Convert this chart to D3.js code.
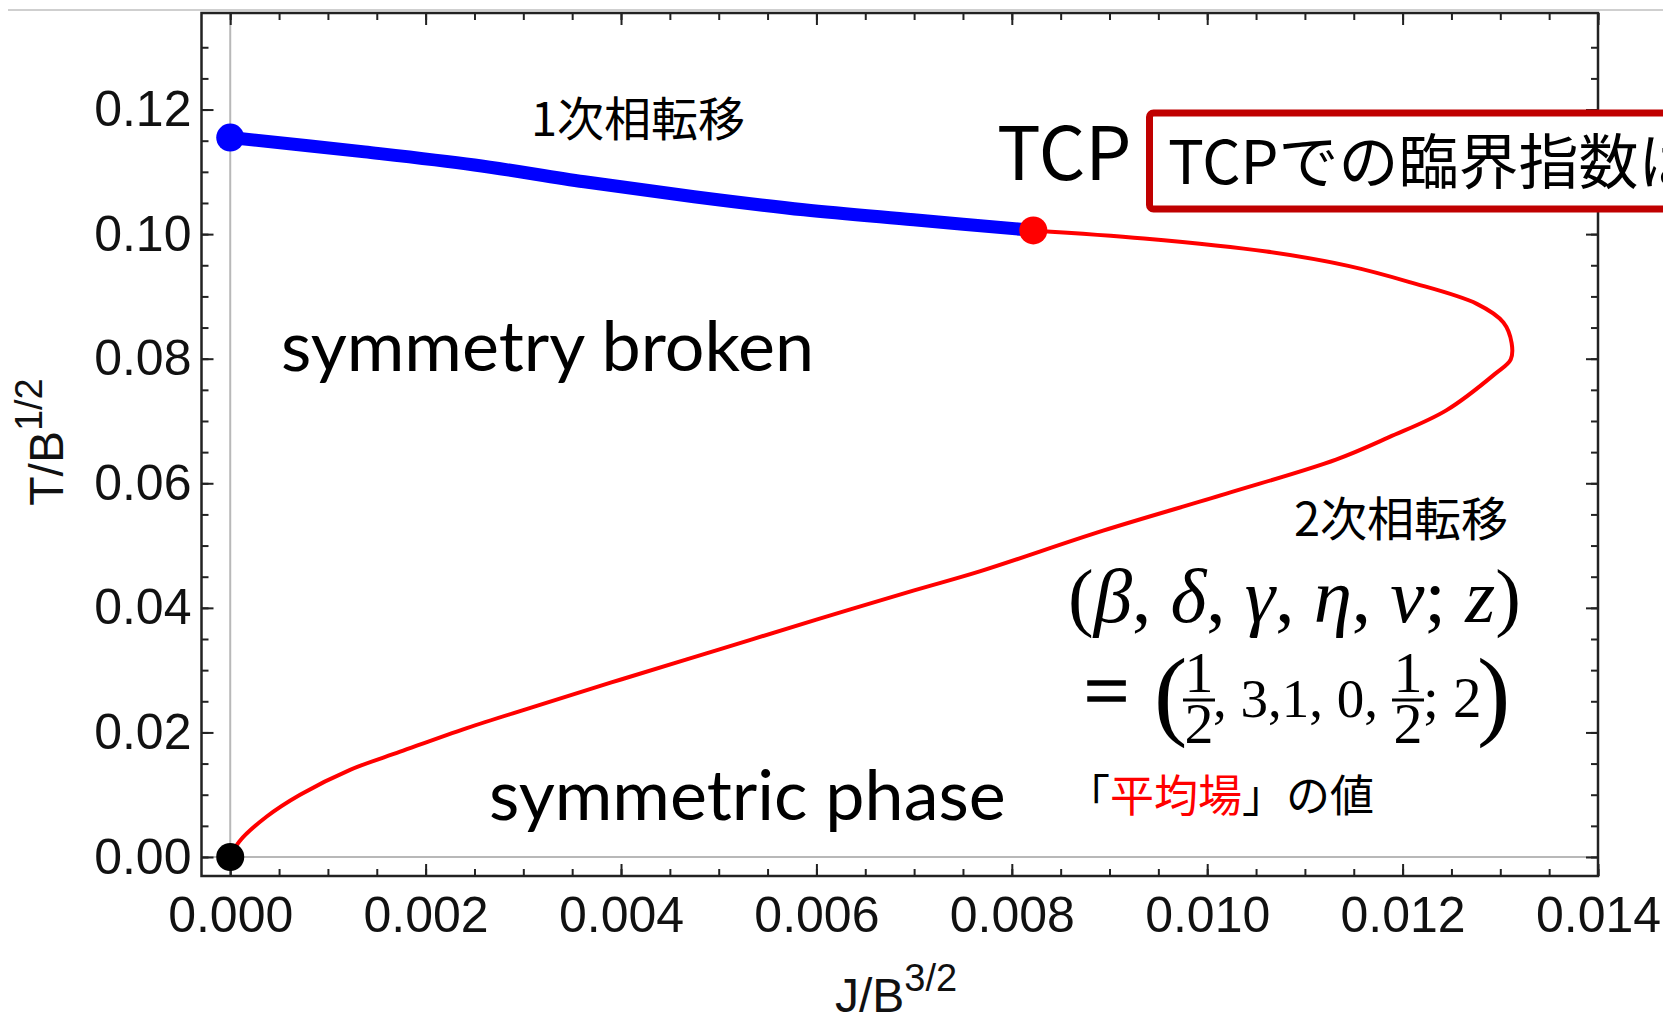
<!DOCTYPE html>
<html>
<head>
<meta charset="utf-8">
<script src="https://cdn.jsdelivr.net/npm/d3@7"></script>
<style>
  body { margin: 0; background: #fff; }
  svg { display: block; }
</style>
</head>
<body>
<div id="chart"></div>
<script>
// tick values
const xMajor = [0, 0.002, 0.004, 0.006, 0.008, 0.010, 0.012, 0.014]
const yMajor = [0, 0.02, 0.04, 0.06, 0.08, 0.10, 0.12]
const xMinor = d3.range(0, 0.01401, 0.0005)
const yMinor = d3.range(0, 0.1341, 0.005)

// 1st order transition line (blue), J/B^(3/2) vs T/B^(1/2)
const firstJ = [0, 0.001377, 0.0025, 0.003624, 0.004748, 0.005872, 0.006995, 0.00822]
const firstT = [0.1155, 0.1132, 0.1111, 0.1084, 0.1060, 0.1039, 0.1023, 0.1006]

// 2nd order transition line (red), from origin up to TCP
const secondJ = [0, 0.0000936, 0.000374, 0.000715, 0.001227, 0.001739, 0.002422, 0.003105,
  0.004, 0.005, 0.006, 0.007, 0.00768, 0.008934, 0.010189, 0.011318, 0.011862, 0.012447,
  0.012949, 0.013107, 0.013116, 0.013032, 0.012760, 0.012071, 0.011443, 0.010607, 0.009353, 0.00822]
const secondT = [0, 0.0025, 0.0065, 0.0100, 0.0140, 0.0169, 0.0207, 0.0241,
  0.0285, 0.0333, 0.0381, 0.0428, 0.0459, 0.0524, 0.0583, 0.0638, 0.0674, 0.0717,
  0.0776, 0.0799, 0.0825, 0.0858, 0.0888, 0.0923, 0.0949, 0.0972, 0.0993, 0.1006]

// special points
const dotJ = [0, 0.00822, 0]
const dotT = [0.1155, 0.1006, 0]
const dotColor = ['#0000ff', '#ff0000', '#000000']

const width = 1663
const height = 1021
const margin = { top: 13, left: 201.5, right: 65, bottom: 145 }

const svg = d3
  .select('#chart')
  .append('svg')
  .attr('width', width)
  .attr('height', height)
  .style('background', 'white')

const x = d3
  .scaleLinear()
  .domain([-0.000294, 0.014])
  .range([margin.left, width - margin.right])
const y = d3
  .scaleLinear()
  .domain([-0.00305, 0.1355])
  .range([height - margin.bottom, margin.top])

const x0 = margin.left
const x1 = width - margin.right
const y0 = height - margin.bottom
const y1 = margin.top

// thin grey line of the slide at the very top
svg.append('line')
  .attr('x1', 8).attr('x2', width)
  .attr('y1', 10).attr('y2', 10)
  .attr('stroke', '#cfcfcf').attr('stroke-width', 2)

// axes lines through origin (light grey)
svg.append('line')
  .attr('x1', x(0)).attr('x2', x(0))
  .attr('y1', y1).attr('y2', y0)
  .attr('stroke', '#b8b8b8').attr('stroke-width', 2)
svg.append('line')
  .attr('x1', x0).attr('x2', x1)
  .attr('y1', y(0)).attr('y2', y(0))
  .attr('stroke', '#b8b8b8').attr('stroke-width', 2)

// frame ticks, all pointing inward
function tickStyle(g) {
  g.select('.domain').remove()
  g.selectAll('.tick line').attr('stroke', '#222').attr('stroke-width', 2)
  g.selectAll('.tick text')
    .attr('fill', '#111')
    .style('font-family', '"Liberation Sans", Arial, sans-serif')
    .style('font-size', '50px')
}

svg.append('g')
  .attr('transform', `translate(0,${y0})`)
  .call(d3.axisBottom(x).tickValues(xMinor).tickSize(-7).tickFormat(''))
  .call(tickStyle)
svg.append('g')
  .attr('transform', `translate(0,${y0})`)
  .call(d3.axisBottom(x).tickValues(xMajor).tickSize(-12).tickPadding(20).tickFormat(d3.format('.3f')))
  .call(tickStyle)
svg.append('g')
  .attr('transform', `translate(0,${y1})`)
  .call(d3.axisTop(x).tickValues(xMinor).tickSize(-7).tickFormat(''))
  .call(tickStyle)
svg.append('g')
  .attr('transform', `translate(0,${y1})`)
  .call(d3.axisTop(x).tickValues(xMajor).tickSize(-12).tickFormat(''))
  .call(tickStyle)

svg.append('g')
  .attr('transform', `translate(${x0},0)`)
  .call(d3.axisLeft(y).tickValues(yMinor).tickSize(-7).tickFormat(''))
  .call(tickStyle)
svg.append('g')
  .attr('transform', `translate(${x0},0)`)
  .call(d3.axisLeft(y).tickValues(yMajor).tickSize(-12).tickPadding(10).tickFormat(d3.format('.2f')))
  .call(tickStyle)
svg.append('g')
  .attr('transform', `translate(${x1},0)`)
  .call(d3.axisRight(y).tickValues(yMinor).tickSize(-7).tickFormat(''))
  .call(tickStyle)
svg.append('g')
  .attr('transform', `translate(${x1},0)`)
  .call(d3.axisRight(y).tickValues(yMajor).tickSize(-12).tickFormat(''))
  .call(tickStyle)

// frame
svg.append('rect')
  .attr('x', x0).attr('y', y1)
  .attr('width', x1 - x0).attr('height', y0 - y1)
  .attr('fill', 'none')
  .attr('stroke', '#222')
  .attr('stroke-width', 2.5)

// axis labels
const axisFont = '"Liberation Sans", Arial, sans-serif'
const xLabel = svg.append('text')
  .attr('x', 835).attr('y', 1012)
  .style('font-family', axisFont)
  .style('font-size', '48px')
  .attr('fill', '#111')
xLabel.append('tspan').text('J/B')
xLabel.append('tspan').attr('dy', -21).style('font-size', '38px').text('3/2')

const yLabel = svg.append('text')
  .attr('transform', 'translate(63,442) rotate(-90)')
  .attr('text-anchor', 'middle')
  .style('font-family', axisFont)
  .style('font-size', '48px')
  .attr('fill', '#111')
yLabel.append('tspan').text('T/B')
yLabel.append('tspan').attr('dy', -21).style('font-size', '38px').text('1/2')

// curves
const line = d3.line()
  .x(d => x(d[0]))
  .y(d => y(d[1]))
  .curve(d3.curveCatmullRom.alpha(0.5))

svg.append('path')
  .datum(secondJ.map((d, i) => [d, secondT[i]]))
  .attr('d', line)
  .attr('fill', 'none')
  .attr('stroke', '#ff0000')
  .attr('stroke-width', 4)
  .attr('stroke-linejoin', 'round')

svg.append('path')
  .datum(firstJ.map((d, i) => [d, firstT[i]]))
  .attr('d', line)
  .attr('fill', 'none')
  .attr('stroke', '#0000ff')
  .attr('stroke-width', 13)
  .attr('stroke-linejoin', 'round')

svg.selectAll('.dot')
  .data(dotJ)
  .enter()
  .append('circle')
  .attr('class', 'dot')
  .attr('cx', d => x(d))
  .attr('cy', (d, i) => y(dotT[i]))
  .attr('r', 14)
  .attr('fill', (d, i) => dotColor[i])

// annotations
const jp = '"Noto Sans CJK JP", sans-serif'
const latin = 'Lato, "Open Sans", sans-serif'
const serif = '"Liberation Serif", "Times New Roman", serif'

svg.append('text')
  .attr('x', 531).attr('y', 136)
  .style('font-family', jp).style('font-size', '47px')
  .text('1次相転移')

svg.append('text')
  .attr('x', 1294).attr('y', 536)
  .style('font-family', jp).style('font-size', '47px')
  .text('2次相転移')

svg.append('text')
  .attr('x', 997).attr('y', 180)
  .style('font-family', jp).style('font-size', '73px')
  .text('TCP')

svg.append('rect')
  .attr('x', 1149.5).attr('y', 113)
  .attr('width', 700).attr('height', 96)
  .attr('rx', 4)
  .attr('fill', 'white')
  .attr('stroke', '#c00000')
  .attr('stroke-width', 7)

svg.append('text')
  .attr('x', 1168).attr('y', 184)
  .style('font-family', jp).style('font-size', '60px')
  .text('TCPでの臨界指数は')

svg.append('text')
  .attr('x', 281).attr('y', 371)
  .style('font-family', latin).style('font-size', '70px')
  .text('symmetry broken')

svg.append('text')
  .attr('x', 489).attr('y', 820)
  .style('font-family', latin).style('font-size', '70px')
  .text('symmetric phase')

// exponents
const m1 = svg.append('text')
  .attr('x', 1068).attr('y', 622)
  .style('font-family', serif).style('font-size', '77px')
const parts = [['(', 'normal'], ['β', 'italic'], [', ', 'normal'], ['δ', 'italic'], [', ', 'normal'],
  ['γ', 'italic'], [', ', 'normal'], ['η', 'italic'], [', ', 'normal'], ['ν', 'italic'],
  ['; ', 'normal'], ['z', 'italic'], [')', 'normal']]
parts.forEach(p => m1.append('tspan').style('font-style', p[1]).text(p[0]))

svg.append('text')
  .attr('x', 1084).attr('y', 718)
  .style('font-family', serif).style('font-size', '80px')
  .attr('stroke', 'black').attr('stroke-width', 1.5)
  .attr('textLength', 45).attr('lengthAdjust', 'spacingAndGlyphs')
  .text('=')

svg.append('text')
  .attr('x', 1154).attr('y', 727)
  .style('font-family', serif).style('font-size', '100px')
  .text('(')
svg.append('text')
  .attr('x', 1477).attr('y', 727)
  .style('font-family', serif).style('font-size', '100px')
  .text(')')

function fraction(cx) {
  svg.append('text')
    .attr('x', cx).attr('y', 692)
    .attr('text-anchor', 'middle')
    .style('font-family', serif).style('font-size', '58px')
    .text('1')
  svg.append('line')
    .attr('x1', cx - 16).attr('x2', cx + 16)
    .attr('y1', 700).attr('y2', 700)
    .attr('stroke', 'black').attr('stroke-width', 3)
  svg.append('text')
    .attr('x', cx).attr('y', 743)
    .attr('text-anchor', 'middle')
    .style('font-family', serif).style('font-size', '58px')
    .text('2')
}
fraction(1199)
fraction(1408)

svg.append('text')
  .attr('x', 1213).attr('y', 717)
  .style('font-family', serif).style('font-size', '55px')
  .text(', 3,1, 0,')
svg.append('text')
  .attr('x', 1423).attr('y', 717)
  .style('font-family', serif).style('font-size', '57px')
  .text('; 2')

const mf = svg.append('text')
  .attr('x', 1066).attr('y', 812)
  .style('font-family', jp).style('font-size', '44px')
mf.append('tspan').text('「')
mf.append('tspan').attr('fill', '#ff0000').text('平均場')
mf.append('tspan').text('」の値')
</script>
</body>
</html>
